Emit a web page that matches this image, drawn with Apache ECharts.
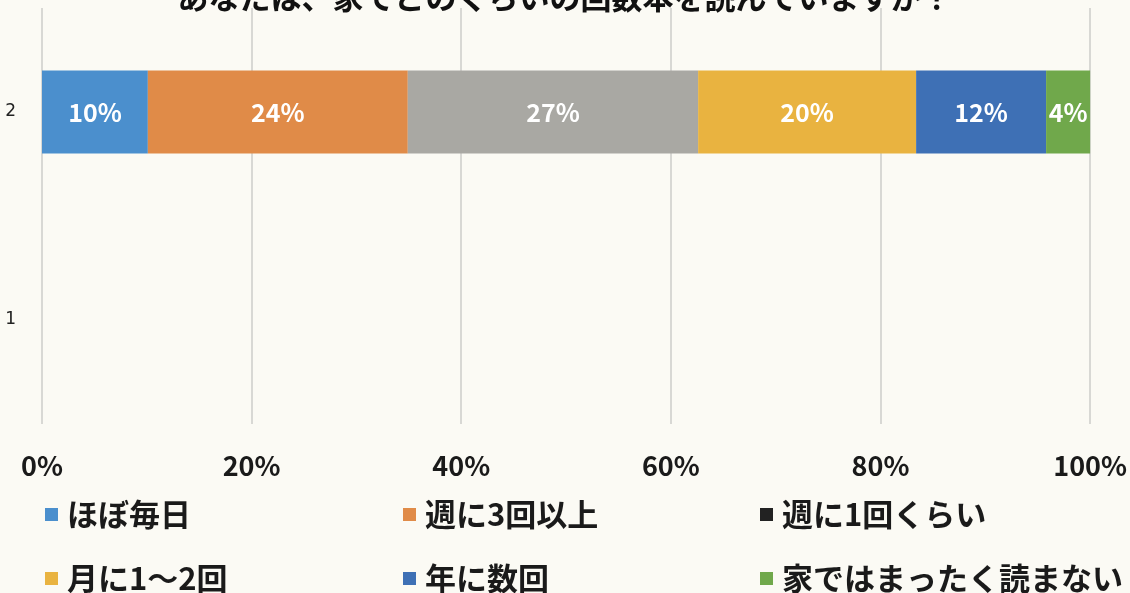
<!DOCTYPE html>
<html>
<head>
<meta charset="utf-8">
<script src="https://cdn.jsdelivr.net/npm/echarts@6/dist/echarts.min.js"></script>
<style>
html, body { margin: 0; padding: 0; background: #fbfaf4; }
#chart { width: 1130px; height: 593px; }
</style>
</head>
<body>
<div id="chart"></div>
<script>
// 回答の割合（%）
var categories = ['1', '2']
var seriesNames = ['ほぼ毎日', '週に3回以上', '週に1回くらい', '月に1～2回', '年に数回', '家ではまったく読まない']
var values = [10.1, 24.8, 27.7, 20.8, 12.4, 4.2]
var labels = ['10%', '24%', '27%', '20%', '12%', '4%']
var colors = ['#4b8fcd', '#e08b48', '#a9a8a3', '#e9b340', '#3e70b5', '#70a84b']
var legendIconColors = ['#4b8fcd', '#e08b48', '#222222', '#e9b340', '#3e70b5', '#70a84b']
var xTicks = [0, 20, 40, 60, 80, 100]

var jp = '"Noto Sans CJK JP", "Noto Sans", sans-serif'
var legendPos = [[40, 494], [398, 494], [755, 494], [40, 558], [398, 558], [755, 558]]

var mychart = echarts.init(document.getElementById('chart'))
mychart.setOption({
    backgroundColor: '#fbfaf4',
    animation: false,
    title: {
        text: 'あなたは、家でどのくらいの回数本を読んでいますか？',
        left: 'center',
        top: -23,
        textStyle: { fontFamily: jp, fontSize: 31, fontWeight: 'bold', color: '#111' }
    },
    legend: seriesNames.map(function (n, i) {
        return {
            data: [{ name: n, itemStyle: { color: legendIconColors[i] } }],
            left: legendPos[i][0],
            top: legendPos[i][1],
            icon: 'rect',
            itemWidth: 13,
            itemHeight: 13,
            selectedMode: false,
            textStyle: { fontFamily: jp, fontSize: 31, fontWeight: 'bold', color: '#1a1a1a', padding: [0, 0, 0, 4] }
        }
    }),
    grid: { left: 42, right: 39, top: 8, bottom: 169 },
    xAxis: {
        type: 'value',
        min: 0,
        max: 100,
        interval: 20,
        axisLine: { show: false },
        axisTick: { show: false },
        splitLine: { lineStyle: { color: '#d8d8d4', width: 2 } },
        axisLabel: {
            margin: 28,
            fontFamily: jp,
            fontSize: 27,
            fontWeight: 'bold',
            color: '#1a1a1a',
            formatter: function (v) { return xTicks.indexOf(v) >= 0 ? v + '%' : '' }
        }
    },
    yAxis: {
        type: 'category',
        data: categories,
        axisLine: { show: false },
        axisTick: { show: false },
        axisLabel: { margin: 26, fontFamily: '"DejaVu Sans", sans-serif', fontSize: 17, color: '#222' }
    },
    series: seriesNames.map(function (n, i) {
        return {
            name: n,
            type: 'bar',
            stack: 'total',
            barWidth: '40%',
            itemStyle: { color: colors[i] },
            label: {
                show: true,
                position: 'inside',
                formatter: function () { return labels[i] },
                fontFamily: jp,
                fontSize: 25,
                fontWeight: 'bold',
                color: '#ffffff'
            },
            data: [null, values[i]]
        }
    })
})
</script>
</body>
</html>
